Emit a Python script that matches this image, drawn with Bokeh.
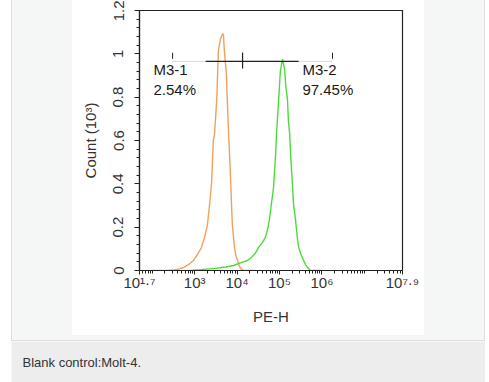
from bokeh.plotting import figure
from bokeh.models import FixedTicker, Label, Range1d, ColumnDataSource, Spacer
from bokeh.layouts import row, column
from bokeh.embed import file_html
from bokeh.resources import INLINE

# ---------------- data ----------------
orange_log_pe = [1.96, 2.31, 2.50, 2.62, 2.74, 2.86, 2.97, 3.07, 3.16, 3.23, 3.30, 3.35,
                 3.40, 3.42, 3.44, 3.47, 3.52, 3.56, 3.61, 3.66, 3.68, 3.70, 3.75, 3.77,
                 3.80, 3.82, 3.85, 3.87, 3.89, 3.94, 3.97, 4.01, 4.05, 4.08, 4.15, 4.43]
orange_count = [0.0, 0.0, 0.002, 0.006, 0.014, 0.028, 0.046, 0.075, 0.106, 0.15, 0.208, 0.30,
                0.406, 0.50, 0.60, 0.632, 0.785, 1.015, 1.07, 1.094, 1.085, 1.015, 0.90, 0.785,
                0.632, 0.55, 0.406, 0.30, 0.208, 0.106, 0.07, 0.046, 0.025, 0.01, 0.0, 0.0]

green_log_pe = [2.90, 3.14, 3.49, 3.73, 3.92, 4.08, 4.25, 4.36, 4.43, 4.51, 4.60, 4.67,
                4.72, 4.76, 4.81, 4.86, 4.91, 4.93, 4.95, 4.98, 5.02, 5.07, 5.12, 5.15,
                5.19, 5.21, 5.24, 5.26, 5.31, 5.33, 5.38, 5.42, 5.45, 5.50, 5.57, 5.62,
                5.68, 5.73, 5.97]
green_count = [0.0, 0.004, 0.01, 0.016, 0.023, 0.035, 0.046, 0.065, 0.08, 0.108, 0.13, 0.154,
               0.19, 0.231, 0.308, 0.383, 0.54, 0.632, 0.692, 0.785, 0.92, 0.975, 0.93, 0.85,
               0.785, 0.692, 0.632, 0.54, 0.383, 0.308, 0.231, 0.154, 0.108, 0.077, 0.046, 0.025,
               0.01, 0.0, 0.0]

x_major_exp = [1.7, 3, 4, 5, 6, 7.9]
x_tick_labels = ["10¹·⁷", "10³", "10⁴", "10⁵", "10⁶", "10⁷·⁹"]
y_major = [0, 0.2, 0.4, 0.6, 0.8, 1.0, 1.2]
y_tick_labels = ["0", "0.2", "0.4", "0.6", "0.8", "1", "1.2"]

gate_names = ["M3-1", "M3-2"]
gate_pcts = ["2.54%", "97.45%"]
gate_edges_log = [2.48, 4.13, 6.25]
gate_solid_log = [3.26, 5.45]
gate_level = 0.965
gate_label_log = [2.03, 5.54]

x_label = "PE-H"
y_label = "Count (10³)"
caption = "Blank control:Molt-4."

ORANGE = "#f2a15c"
GREEN = "#4cdc3a"
INK = "#222222"
TXT = "#333333"
FONT = "Liberation Sans"
PANEL = "#f5f6f6"
CAPTION_BG = "#ededed"
EDGE = "#dedfdf"

# ---------------- chart figure (the white picture) ----------------
CW, CH = 352, 335
p = figure(width=CW, height=CH, x_axis_type="log",
           x_range=Range1d(10 ** x_major_exp[0], 10 ** x_major_exp[-1]),
           y_range=Range1d(0, 1.2),
           output_backend="svg", toolbar_location=None,
           min_border_left=67, min_border_right=22, min_border_top=10, min_border_bottom=65)
p.border_fill_color = "white"
p.background_fill_color = "white"
p.outline_line_color = INK
p.outline_line_width = 1.2
p.grid.visible = False

x_ticks = [float(10 ** e) for e in x_major_exp]
x_minor = []
for d in range(1, 8):
    for k in range(1, 10):
        v = float(k * 10 ** d)
        if x_ticks[0] < v < x_ticks[-1] and v not in x_ticks:
            x_minor.append(v)
p.xaxis.ticker = FixedTicker(ticks=x_ticks, minor_ticks=x_minor)
p.xaxis.major_label_overrides = {t: lab for t, lab in zip(x_ticks, x_tick_labels)}

y_minor = [round(i * 0.04, 2) for i in range(31) if i % 5 != 0]
p.yaxis.ticker = FixedTicker(ticks=y_major, minor_ticks=y_minor)
p.yaxis.major_label_overrides = {t: lab for t, lab in zip(y_major, y_tick_labels)}
p.yaxis.major_label_orientation = "vertical"

for ax in (p.xaxis[0], p.yaxis[0]):
    ax.axis_line_color = INK
    ax.axis_line_width = 1.2
    ax.major_tick_line_color = INK
    ax.minor_tick_line_color = INK
    ax.major_tick_in = 0
    ax.minor_tick_in = 0
    ax.major_label_text_font = FONT
    ax.major_label_text_font_size = "15px"
    ax.major_label_text_color = TXT
    ax.axis_label_text_font = FONT
    ax.axis_label_text_font_size = "15px"
    ax.axis_label_text_font_style = "normal"
    ax.axis_label_text_color = TXT

p.xaxis.major_tick_out = 4
p.xaxis.minor_tick_out = 3
p.xaxis.major_label_standoff = -1
p.xaxis.axis_label = x_label
p.xaxis.axis_label_standoff = 14

p.yaxis.major_tick_out = 5
p.yaxis.minor_tick_out = 3
p.yaxis.major_label_standoff = 11
p.yaxis.axis_label = y_label
p.yaxis.axis_label_standoff = 12

src_o = ColumnDataSource(dict(x=[10 ** v for v in orange_log_pe], y=orange_count))
src_g = ColumnDataSource(dict(x=[10 ** v for v in green_log_pe], y=green_count))
p.line("x", "y", source=src_o, line_color=ORANGE, line_width=1.4)
p.line("x", "y", source=src_g, line_color=GREEN, line_width=1.4)

e0, e1, e2 = [10 ** v for v in gate_edges_log]
s0, s1 = [10 ** v for v in gate_solid_log]
p.line([e0, s0], [gate_level, gate_level], line_color="#b5b5b5", line_width=1, line_dash="1 1")
p.line([s1, e2], [gate_level, gate_level], line_color="#b5b5b5", line_width=1, line_dash="1 1")
p.line([s0, s1], [gate_level, gate_level], line_color=INK, line_width=1.2)
p.segment(x0=[e0, e2], y0=[gate_level + 0.012, gate_level + 0.012],
          x1=[e0, e2], y1=[gate_level + 0.04, gate_level + 0.04], line_color=INK, line_width=1)
p.segment(x0=[e1], y0=[gate_level - 0.033], x1=[e1], y1=[gate_level + 0.041],
          line_color=INK, line_width=1.2)

for lx, name, pct in zip(gate_label_log, gate_names, gate_pcts):
    for txt, yy in ((name, 0.927), (pct, 0.835)):
        p.add_layout(Label(x=10 ** lx, y=yy, text=txt, text_font=FONT, text_font_size="15px",
                           text_color="#1a1a1a", text_baseline="alphabetic", text_align="left"))

# ---------------- caption strip ----------------
PW = 474
c = figure(width=PW, height=41, x_range=Range1d(0, PW), y_range=Range1d(41, 0),
           x_axis_location=None, y_axis_location=None,
           output_backend="svg", toolbar_location=None,
           min_border_left=0, min_border_right=0, min_border_top=0, min_border_bottom=0)
c.border_fill_color = CAPTION_BG
c.background_fill_color = CAPTION_BG
c.outline_line_color = None
c.grid.visible = False
c.add_layout(Label(x=11, y=21, text=caption, text_font=FONT, text_font_size="13px",
                   text_color=TXT, text_baseline="middle", text_align="left"))


def block(w, h, color):
    return Spacer(width=w, height=h, styles={"background-color": color})


upper = column(
    row(block(1, 340, EDGE), block(60, 340, PANEL),
        column(p, block(CW, 5, PANEL)),
        block(60, 340, PANEL), block(1, 340, EDGE)),
    block(PW, 1, EDGE))
layout = row(Spacer(width=11, height=382), column(upper, c))

open("out.html", "w").write(file_html(layout, INLINE))
